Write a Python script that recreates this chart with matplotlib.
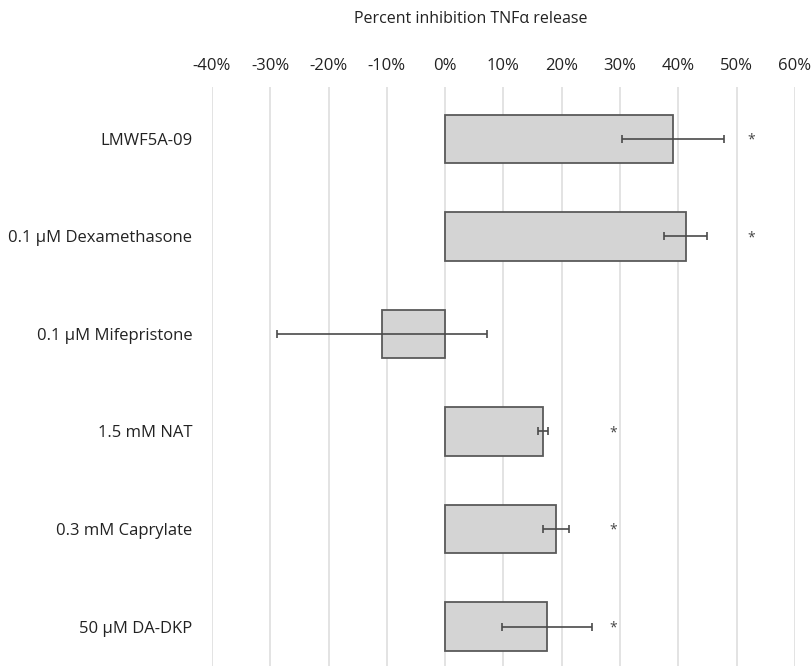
import numpy as np
import matplotlib
matplotlib.use("Agg")
import matplotlib.pyplot as plt
from matplotlib.ticker import FuncFormatter

plt.rcParams['font.family'] = ['Open Sans', 'DejaVu Sans']

labels = ['LMWF5A-09', '0.1 \u00b5M Dexamethasone', '0.1 \u00b5M Mifepristone',
          '1.5 mM NAT', '0.3 mM Caprylate', '50 \u00b5M DA-DKP']
values = [39.1, 41.3, -10.8, 16.8, 19.0, 17.5]
errors = [8.7, 3.7, 18.0, 0.9, 2.2, 7.7]
star_x = [52.5, 52.5, None, 28.8, 28.8, 28.8]

fig = plt.figure(figsize=(8.12, 6.66), dpi=100)
ax = fig.add_axes([0.261, 0.0, 0.718, 1 - 87 / 666])

y = np.arange(len(labels))
ax.barh(y, values, height=0.5, color='#d4d4d4', edgecolor='#5a5a5a',
        linewidth=1.3, zorder=3)
ax.errorbar(values, y, xerr=errors, fmt='none', ecolor='#4a4a4a',
            elinewidth=1.2, capsize=3, capthick=1.2, zorder=4)

# significance marks
for xi, yi in zip(star_x, y):
    if xi is not None:
        ax.text(xi, yi + 0.015, '*', ha='center', va='center', fontsize=10,
                color='#444444', zorder=5)

ax.set_xlim(-40, 60)
ax.set_ylim(5.405, -0.533)
ax.set_xticks(np.arange(-40, 61, 10))
ax.xaxis.set_major_formatter(FuncFormatter(lambda v, p: '%d%%' % v))
ax.xaxis.tick_top()
ax.set_yticks(y)
ax.set_yticklabels(labels)
ax.tick_params(axis='both', length=0, labelsize=12, colors='#222222')
ax.tick_params(axis='x', pad=9.5)
ax.tick_params(axis='y', pad=14)
ax.grid(axis='x', color='#dedede', linewidth=1.2, zorder=0)
for s in ax.spines.values():
    s.set_visible(False)

fig.text(471 / 812, 1 - 19 / 666, 'Percent inhibition TNF\u03b1 release',
         ha='center', va='center', fontsize=11.5, color='#222222')

fig.savefig('out.png', dpi=100)
